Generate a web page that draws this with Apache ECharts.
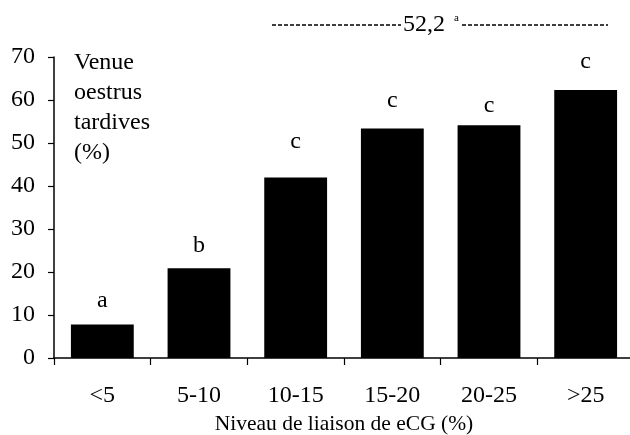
<!DOCTYPE html>
<html>
<head>
<meta charset="utf-8">
<script src="https://cdn.jsdelivr.net/npm/echarts@6/dist/echarts.min.js"></script>
<style>html,body{margin:0;padding:0;background:#fff}#c{width:630px;height:435px}</style>
</head>
<body>
<div id="c"></div>
<script>
var categories = ['<5', '5-10', '10-15', '15-20', '20-25', '>25'];
var values = [7.8, 20.9, 42.0, 53.4, 54.1, 62.3];
var letters = ['a', 'b', 'c', 'c', 'c', 'c'];
var yTicks = [0, 10, 20, 30, 40, 50, 60, 70];
var xTitle = 'Niveau de liaison de eCG (%)';
var yTitle = ['Venue', 'oestrus', 'tardives', '(%)'];
var meanText = '52,2';
var meanSup = 'a';

var FONT = '"Liberation Serif", "DejaVu Serif", serif';
var FS = 24;
var letterGap = [12, 10, 24, 16, 8, 16];
var chart = echarts.init(document.getElementById('c'), null, {renderer: 'canvas'});
chart.setOption({
  animation: false,
  backgroundColor: '#fff',
  grid: {left: 54, top: 57, width: 580, height: 301, containLabel: false, outerBoundsMode: 'none'},
  xAxis: {
    type: 'category',
    data: categories,
    axisLine: {lineStyle: {color: '#000', width: 1.5}},
    axisTick: {show: true, length: 7, lineStyle: {color: '#000', width: 1.2}, alignWithLabel: false},
    axisLabel: {color: '#000', fontFamily: FONT, fontSize: FS, margin: 26},
    name: xTitle,
    nameLocation: 'middle',
    nameGap: 51,
    nameTextStyle: {color: '#000', fontFamily: FONT, fontSize: 21.5}
  },
  yAxis: {
    type: 'value',
    min: yTicks[0],
    max: yTicks[yTicks.length - 1],
    interval: 10,
    splitLine: {show: false},
    axisLine: {show: true, lineStyle: {color: '#000', width: 1.5}},
    axisTick: {show: true, length: 6, lineStyle: {color: '#000', width: 1.2}},
    axisLabel: {color: '#000', fontFamily: FONT, fontSize: FS, margin: 19}
  },
  series: [{
    type: 'bar',
    data: values.map(function (v, i) {
      return {value: v, label: {formatter: letters[i], distance: letterGap[i]}};
    }),
    barCategoryGap: '35%',
    itemStyle: {color: '#000'},
    label: {show: true, position: 'top', color: '#000', fontFamily: FONT, fontSize: FS}
  }],
  graphic: [
    {
      type: 'text', left: 74, top: 48,
      style: {text: yTitle.join('\n'), fill: '#000', font: '24px ' + FONT, lineHeight: 30}
    },
    {
      type: 'line', shape: {x1: 272, y1: 25, x2: 401, y2: 25},
      style: {stroke: '#000', lineWidth: 1.5, lineDash: [4, 2]}
    },
    {
      type: 'line', shape: {x1: 462, y1: 25, x2: 608, y2: 25},
      style: {stroke: '#000', lineWidth: 1.5, lineDash: [4, 2]}
    },
    {
      type: 'text', x: 403, y: 25,
      style: {text: meanText, fill: '#000', font: '24px ' + FONT, verticalAlign: 'middle', align: 'left'}
    },
    {
      type: 'text', x: 454, y: 18,
      style: {text: meanSup, fill: '#000', font: '11px ' + FONT, verticalAlign: 'middle', align: 'left'}
    }
  ]
});
</script>
</body>
</html>
